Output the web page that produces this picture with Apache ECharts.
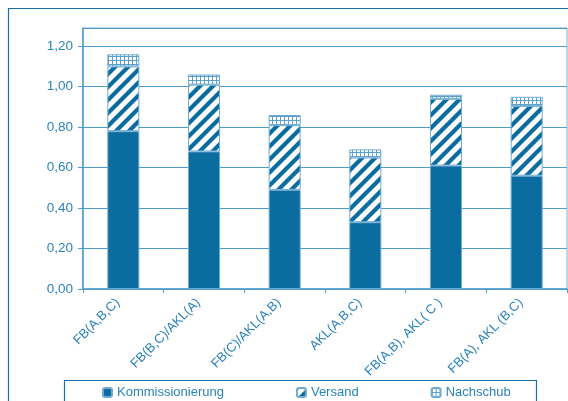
<!DOCTYPE html>
<html>
<head>
<meta charset="utf-8">
<script src="https://cdn.jsdelivr.net/npm/echarts@6/dist/echarts.min.js"></script>
<style>
html,body{margin:0;padding:0;background:#fff;}
#c{width:568px;height:401px;}
</style>
</head>
<body>
<div id="c"></div>
<script>
var categories = ['FB(A,B,C)', 'FB(B,C)/AKL(A)', 'FB(C)/AKL(A,B)', 'AKL(A,B,C)', 'FB(A,B), AKL( C )', 'FB(A), AKL (B,C)'];
var kommissionierung = [0.78, 0.68, 0.49, 0.33, 0.61, 0.56];
var versand = [0.32, 0.33, 0.32, 0.32, 0.33, 0.345];
var nachschub = [0.06, 0.05, 0.05, 0.04, 0.02, 0.045];
var yTicks = [0, 0.2, 0.4, 0.6, 0.8, 1.0, 1.2];

var DARK = '#0b6d9f';
var TEXT = '#2a82ba';
var GRID = '#4f9ccb';
var EDGE = '#6eaad2';

function stripeTile() {
  var s = 13;
  var c = document.createElement('canvas');
  c.width = s; c.height = s;
  var g = c.getContext('2d');
  g.fillStyle = '#ffffff';
  g.fillRect(0, 0, s, s);
  g.strokeStyle = DARK;
  g.lineWidth = 4.2;
  g.beginPath();
  for (var k = -1; k <= 1; k++) {
    g.moveTo(-2 + k * s, s + 2);
    g.lineTo(s + 2 + k * s, -2);
  }
  g.stroke();
  return c;
}
function dotTile() {
  var s = 4;
  var c = document.createElement('canvas');
  c.width = s; c.height = s;
  var g = c.getContext('2d');
  g.fillStyle = '#ffffff';
  g.fillRect(0, 0, s, s);
  g.fillStyle = '#5b9fcc';
  g.fillRect(0, 0, s, 1);
  g.fillRect(0, 0, 1, s);
  return c;
}

var chart = echarts.init(document.getElementById('c'), null, {renderer: 'canvas'});
var option = {
  animation: false,
  backgroundColor: '#ffffff',
  textStyle: {fontFamily: 'Liberation Sans, Arial, sans-serif'},
  graphic: [
    {type: 'rect', shape: {x: 8.5, y: 8.5, width: 620, height: 500}, style: {fill: 'none', stroke: '#1a6fa6', lineWidth: 1.2}, z: 0},
    {type: 'rect', shape: {x: 64.5, y: 380.5, width: 472, height: 40}, style: {fill: 'none', stroke: '#1a6fa6', lineWidth: 1.2}, z: 0}
  ],
  grid: {left: 83, right: 1, top: 28, bottom: 112, show: true, borderColor: '#7fb0d0', borderWidth: 1, backgroundColor: 'transparent'},
  legend: {
    left: 97, top: 381, itemGap: 72, itemWidth: 9, itemHeight: 9,
    textStyle: {color: TEXT, fontSize: 13, fontFamily: 'Liberation Sans, Arial, sans-serif'},
    data: ['Kommissionierung', 'Versand', 'Nachschub']
  },
  xAxis: {
    type: 'category', data: categories,
    axisLine: {lineStyle: {color: GRID, width: 1.5}},
    axisTick: {show: true, length: 4, lineStyle: {color: GRID}},
    axisLabel: {rotate: 45, color: TEXT, fontSize: 13, margin: 6, interval: 0, padding: [0, 8, 0, 0]}
  },
  yAxis: {
    type: 'value', min: 0, max: 1.29, interval: 0.2,
    axisLine: {show: true, lineStyle: {color: GRID, width: 1.5}},
    axisTick: {show: true, length: 5, lineStyle: {color: GRID}},
    splitLine: {lineStyle: {color: GRID, width: 1.2}},
    axisLabel: {
      color: TEXT, fontSize: 13.5, margin: 10, showMaxLabel: false,
      formatter: function (v) { return yTicks.indexOf(Math.round(v * 10) / 10) >= 0 ? v.toFixed(2).replace('.', ',') : ''; }
    }
  },
  series: [
    {name: 'Kommissionierung', type: 'bar', stack: 's', barWidth: 32, data: kommissionierung,
      itemStyle: {color: DARK, borderColor: EDGE, borderWidth: 1}},
    {name: 'Versand', type: 'bar', stack: 's', barWidth: 32, data: versand,
      itemStyle: {color: {image: stripeTile(), repeat: 'repeat'}, borderColor: EDGE, borderWidth: 1}},
    {name: 'Nachschub', type: 'bar', stack: 's', barWidth: 32, data: nachschub,
      itemStyle: {color: {image: dotTile(), repeat: 'repeat'}, borderColor: EDGE, borderWidth: 1}}
  ]
};
chart.setOption(option);
</script>
</body>
</html>
